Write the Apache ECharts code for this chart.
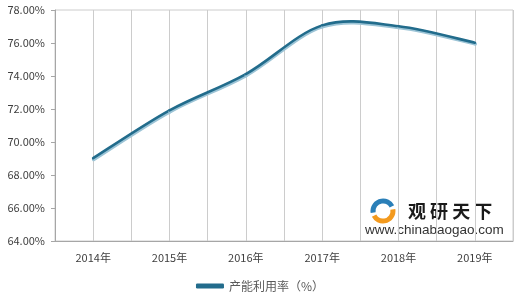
<!DOCTYPE html>
<html><head><meta charset="utf-8">
<script src="https://cdn.jsdelivr.net/npm/echarts@6/dist/echarts.min.js"></script>
<style>html,body{margin:0;padding:0;background:#fff}#c{width:520px;height:307px}</style>
</head><body><div id="c"></div>
<script>
var categories = ['2014年','2015年','2016年','2017年','2018年','2019年'];
var utilization = [69.0, 71.9, 74.1, 77.05, 77.0, 76.0];
var seriesName = '产能利用率（%）';
var halfSlots = ['a','b','c','d','e','f','g','h','i','j','k','l'];

var chart = echarts.init(document.getElementById('c'));
var font = '"Microsoft YaHei","Noto Sans CJK SC",sans-serif';
var seriesData = utilization.map(function (v, i) { return [i, v]; });

function renderSegment(params, api) {
  var i = params.dataIndex;
  var n = utilization.length;
  if (i >= n - 1) return null;
  function pt(k) {
    k = Math.max(0, Math.min(n - 1, k));
    return api.coord([k, api.value(1, k)]);
  }
  var p0 = pt(i - 1), p1 = pt(i), p2 = pt(i + 1), p3 = pt(i + 2);
  var t = 1 / 6;
  var shape = {
    x1: p1[0], y1: p1[1], x2: p2[0], y2: p2[1],
    cpx1: p1[0] + (p2[0] - p0[0]) * t, cpy1: p1[1] + (p2[1] - p0[1]) * t,
    cpx2: p2[0] - (p3[0] - p1[0]) * t, cpy2: p2[1] - (p3[1] - p1[1]) * t
  };
  return {
    type: 'group',
    children: [
      {type: 'bezierCurve', shape: shape, position: [0.5, 1], style: {stroke: '#9cc4d6', lineWidth: 3.5, fill: null, lineCap: 'round'}},
      {type: 'bezierCurve', shape: shape, position: [0, -0.3], style: {stroke: '#226c8c', lineWidth: 2.6, fill: null, lineCap: 'round'}}
    ]
  };
}

chart.setOption({
  animation: false,
  grid: {left: 55, right: 7, top: 10, bottom: 66, show: true, borderColor: '#cccccc', borderWidth: 1},
  legend: {
    bottom: 10, left: 'center', itemWidth: 28, itemHeight: 5, itemGap: 2,
    icon: 'roundRect',
    textStyle: {color: '#595959', fontSize: 12, fontFamily: font},
    data: [seriesName]
  },
  xAxis: [{
    type: 'category', data: categories, boundaryGap: true,
    axisLine: {show: true, lineStyle: {color: '#a6a6a6'}},
    axisTick: {show: false},
    splitLine: {show: false},
    axisLabel: {color: '#404040', fontSize: 11, margin: 11, fontFamily: font}
  }, {
    type: 'category', data: halfSlots, boundaryGap: true, position: 'bottom',
    axisLine: {show: false}, axisTick: {show: false}, axisLabel: {show: false},
    splitLine: {show: true, lineStyle: {color: '#cccccc', width: 1}}
  }],
  yAxis: {
    type: 'value', min: 64, max: 78, interval: 2,
    axisLine: {show: true, lineStyle: {color: '#a6a6a6'}},
    axisTick: {show: true, length: 4, lineStyle: {color: '#a6a6a6'}},
    splitLine: {show: false},
    axisLabel: {color: '#404040', fontSize: 11, margin: 10, fontFamily: font,
      formatter: function (v) { return v.toFixed(2) + '%'; }}
  },
  series: [{
    name: seriesName, type: 'custom', data: seriesData,
    xAxisIndex: 0, yAxisIndex: 0,
    encode: {x: 0, y: 1},
    itemStyle: {color: '#226c8c'},
    renderItem: renderSegment
  }],
  graphic: [
    {type: 'arc', shape: {cx: 383, cy: 211, r: 10, startAngle: Math.PI * 0.95, endAngle: Math.PI * 1.85}, style: {stroke: '#2a7fb8', lineWidth: 5, fill: null}},
    {type: 'arc', shape: {cx: 383, cy: 211, r: 10, startAngle: -Math.PI * 0.05, endAngle: Math.PI * 0.85}, style: {stroke: '#f39a1e', lineWidth: 5, fill: null}},
    {type: 'text', left: 408, top: 202, style: {text: '观 研 天 下', fill: '#1a1a1a', font: 'bold 18px "Noto Sans CJK SC",sans-serif'}},
    {type: 'text', left: 365, top: 223, style: {text: 'www.chinabaogao.com', fill: '#333', font: '13.5px "Liberation Sans",Arial,sans-serif'}}
  ]
});
</script></body></html>
